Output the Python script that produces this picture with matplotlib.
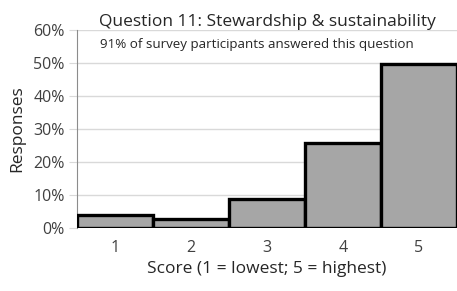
import numpy as np
import matplotlib.pyplot as plt

plt.rcParams['font.family'] = ['Open Sans', 'DejaVu Sans']

scores = ["1", "2", "3", "4", "5"]
responses = [3.9, 2.7, 8.8, 25.8, 49.6]
yticks = [0, 10, 20, 30, 40, 50, 60]

fig = plt.figure(figsize=(4.57, 2.91), dpi=100)
ax = fig.add_axes([77 / 457, 1 - 228 / 291, 380 / 457, 198 / 291])

x = np.arange(len(scores))
ax.bar(x, responses, width=1.0, color="#a6a6a6", edgecolor="black", linewidth=2.4, zorder=3)

ax.set_xlim(-0.5, 4.5)
ax.set_ylim(0, 60)
ax.set_yticks(yticks)
ax.set_yticklabels([f"{v}%" for v in yticks])
ax.set_xticks(x)
ax.set_xticklabels(scores)
ax.grid(axis="y", color="#d9d9d9", linewidth=1, zorder=0)
for s in ["top", "right", "bottom"]:
    ax.spines[s].set_visible(False)
ax.spines["left"].set_color("#8c8c8c")
ax.tick_params(axis="y", length=6, color="#d9d9d9", labelsize=11.5, labelcolor="#404040", pad=3)
ax.tick_params(axis="x", length=0, labelsize=11.5, labelcolor="#404040", pad=9)

ax.set_title("Question 11: Stewardship & sustainability", fontsize=12.5, color="#262626", pad=3)
ax.text(0.06, 0.925, "91% of survey participants answered this question", transform=ax.transAxes,
        fontsize=9.6, color="#262626", va="center")
ax.set_xlabel("Score (1 = lowest; 5 = highest)", fontsize=12.5, color="#262626", labelpad=3)
ax.set_ylabel("Responses", fontsize=12.5, color="#262626", labelpad=6)

fig.savefig("out.png", dpi=100)
